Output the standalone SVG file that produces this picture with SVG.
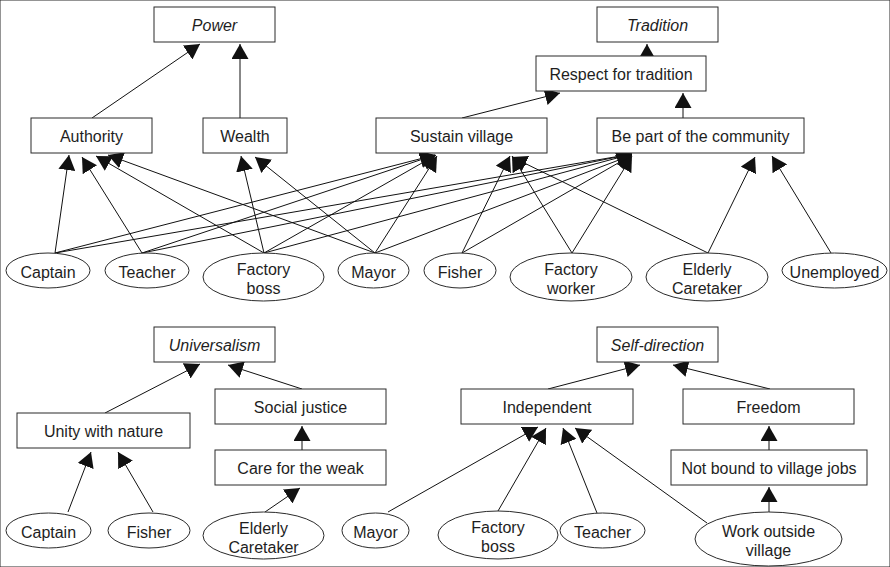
<svg xmlns="http://www.w3.org/2000/svg" width="890" height="567" viewBox="0 0 890 567">
  <defs>
    <marker id="arrow" markerUnits="userSpaceOnUse" markerWidth="15" markerHeight="17" refX="15" refY="8.5" orient="auto">
      <path d="M0,0 L15,8.5 L0,17 z" fill="#111"/>
    </marker>
  </defs>
  <style>
    rect { fill: #fff; stroke: #2a2a2a; stroke-width: 1; }
    ellipse { fill: #fff; stroke: #2a2a2a; stroke-width: 1; }
    text { font-family: "Liberation Sans", Arial, sans-serif; font-size: 16px; fill: #1e1e1e; text-anchor: middle; }
    .val { font-style: italic; }
    #connectors line { stroke: #111; stroke-width: 1; fill: none; marker-end: url(#arrow); }
  </style>

  <rect x="0" y="0" width="890" height="567" fill="#fff" stroke="none"/>

  <!-- connectors -->
  <g id="connectors">
    <!-- Power / Tradition tree -->
    <line x1="92" y1="118" x2="200" y2="44"/>
    <line x1="240" y1="118" x2="240" y2="44"/>
    <line x1="462" y1="118" x2="560" y2="93"/>
    <line x1="683" y1="118" x2="683" y2="93"/>
    <line x1="647" y1="56" x2="647" y2="44"/>

    <!-- to Authority -->
    <line x1="55" y1="253" x2="69" y2="155"/>
    <line x1="142" y1="253" x2="82" y2="157"/>
    <line x1="264" y1="253" x2="96" y2="156"/>
    <line x1="375" y1="253" x2="108" y2="155"/>
    <!-- to Wealth -->
    <line x1="264" y1="253" x2="241" y2="156"/>
    <line x1="375" y1="253" x2="255" y2="157"/>
    <!-- to Sustain village -->
    <line x1="55" y1="253" x2="435" y2="155"/>
    <line x1="142" y1="253" x2="435" y2="155"/>
    <line x1="264" y1="253" x2="436" y2="155"/>
    <line x1="375" y1="253" x2="437" y2="156"/>
    <line x1="462" y1="253" x2="510" y2="156"/>
    <line x1="572" y1="253" x2="512" y2="156"/>
    <line x1="708" y1="253" x2="512" y2="157"/>
    <!-- to Be part of the community -->
    <line x1="55" y1="253" x2="632" y2="154"/>
    <line x1="142" y1="253" x2="632" y2="154"/>
    <line x1="264" y1="253" x2="632" y2="154"/>
    <line x1="375" y1="253" x2="632" y2="155"/>
    <line x1="462" y1="253" x2="632" y2="155"/>
    <line x1="572" y1="253" x2="632" y2="156"/>
    <line x1="708" y1="253" x2="755" y2="157"/>
    <line x1="831" y1="253" x2="772" y2="156"/>

    <!-- Universalism tree -->
    <line x1="105" y1="413" x2="200" y2="364"/>
    <line x1="302" y1="389" x2="228" y2="365"/>
    <line x1="302" y1="450" x2="302" y2="426"/>
    <line x1="68" y1="512" x2="91" y2="452"/>
    <line x1="153" y1="512" x2="118" y2="452"/>
    <line x1="265" y1="512" x2="300" y2="488"/>

    <!-- Self-direction tree -->
    <line x1="548" y1="389" x2="640" y2="365"/>
    <line x1="770" y1="389" x2="673" y2="365"/>
    <line x1="769" y1="450" x2="769" y2="426"/>
    <line x1="769" y1="512" x2="769" y2="487"/>
    <line x1="388" y1="512" x2="538" y2="427"/>
    <line x1="498" y1="511" x2="546" y2="428"/>
    <line x1="597" y1="513" x2="563" y2="428"/>
    <line x1="707" y1="523" x2="575" y2="428"/>
  </g>

  <!-- Power / Tradition -->
  <g id="power"><rect x="154" y="7" width="121" height="35"/><text class="val" x="214.5" y="30.5">Power</text></g>
  <g id="tradition"><rect x="597" y="7" width="121" height="35"/><text class="val" x="657.5" y="30.5">Tradition</text></g>
  <g id="respect-tradition"><rect x="536" y="56" width="170" height="35"/><text x="621" y="79.5">Respect for tradition</text></g>
  <g id="authority"><rect x="31" y="118" width="121" height="35"/><text x="91.5" y="141.5">Authority</text></g>
  <g id="wealth"><rect x="203" y="118" width="84" height="35"/><text x="245" y="141.5">Wealth</text></g>
  <g id="sustain-village"><rect x="376" y="118" width="171" height="35"/><text x="461.5" y="141.5">Sustain village</text></g>
  <g id="community"><rect x="597" y="118" width="207" height="35"/><text x="700.5" y="141.5">Be part of the community</text></g>

  <g id="captain-1"><ellipse cx="48" cy="270.5" rx="42" ry="17.5"/><text x="48" y="277.5">Captain</text></g>
  <g id="teacher-1"><ellipse cx="147" cy="270.5" rx="42" ry="17.5"/><text x="147" y="277.5">Teacher</text></g>
  <g id="factory-boss-1"><ellipse cx="263.5" cy="277" rx="60.5" ry="24"/><text x="263.5" y="274.5">Factory</text><text x="263.5" y="293.5">boss</text></g>
  <g id="mayor-1"><ellipse cx="373.5" cy="270.5" rx="35.5" ry="17.5"/><text x="373.5" y="277.5">Mayor</text></g>
  <g id="fisher-1"><ellipse cx="460" cy="270.5" rx="36" ry="17.5"/><text x="460" y="277.5">Fisher</text></g>
  <g id="factory-worker"><ellipse cx="571" cy="277" rx="61" ry="24"/><text x="571" y="274.5">Factory</text><text x="571" y="293.5">worker</text></g>
  <g id="elderly-caretaker-1"><ellipse cx="707" cy="277" rx="61" ry="24"/><text x="707" y="274.5">Elderly</text><text x="707" y="293.5">Caretaker</text></g>
  <g id="unemployed"><ellipse cx="834.5" cy="270.5" rx="52.5" ry="17.5"/><text x="834.5" y="277.5">Unemployed</text></g>

  <!-- Universalism -->
  <g id="universalism"><rect x="154" y="327" width="121" height="35"/><text class="val" x="214.5" y="350.5">Universalism</text></g>
  <g id="unity-nature"><rect x="17" y="413" width="173" height="35"/><text x="103.5" y="436.5">Unity with nature</text></g>
  <g id="social-justice"><rect x="215" y="389" width="171" height="35"/><text x="300.5" y="412.5">Social justice</text></g>
  <g id="care-weak"><rect x="215" y="450" width="171" height="35"/><text x="300.5" y="473.5">Care for the weak</text></g>
  <g id="captain-2"><ellipse cx="48.5" cy="530.5" rx="42.5" ry="17.5"/><text x="48.5" y="537.5">Captain</text></g>
  <g id="fisher-2"><ellipse cx="149" cy="530.5" rx="41" ry="17.5"/><text x="149" y="537.5">Fisher</text></g>
  <g id="elderly-caretaker-2"><ellipse cx="263.5" cy="535.5" rx="60.5" ry="23.5"/><text x="263.5" y="533.5">Elderly</text><text x="263.5" y="552.5">Caretaker</text></g>

  <!-- Self-direction -->
  <g id="self-direction"><rect x="597" y="327" width="121" height="35"/><text class="val" x="657.5" y="350.5">Self-direction</text></g>
  <g id="independent"><rect x="461" y="389" width="172" height="35"/><text x="547" y="412.5">Independent</text></g>
  <g id="freedom"><rect x="683" y="389" width="171" height="35"/><text x="768.5" y="412.5">Freedom</text></g>
  <g id="not-bound"><rect x="671" y="450" width="196" height="35"/><text x="769" y="473.5">Not bound to village jobs</text></g>
  <g id="mayor-2"><ellipse cx="375.5" cy="530.5" rx="33.5" ry="17.5"/><text x="375.5" y="537.5">Mayor</text></g>
  <g id="factory-boss-2"><ellipse cx="498" cy="535" rx="60" ry="24"/><text x="498" y="532.5">Factory</text><text x="498" y="551.5">boss</text></g>
  <g id="teacher-2"><ellipse cx="602.5" cy="530.5" rx="42.5" ry="17.5"/><text x="602.5" y="537.5">Teacher</text></g>
  <g id="work-outside"><ellipse cx="768.5" cy="539" rx="73.5" ry="27"/><text x="768.5" y="537">Work outside</text><text x="768.5" y="556">village</text></g>
</svg>
